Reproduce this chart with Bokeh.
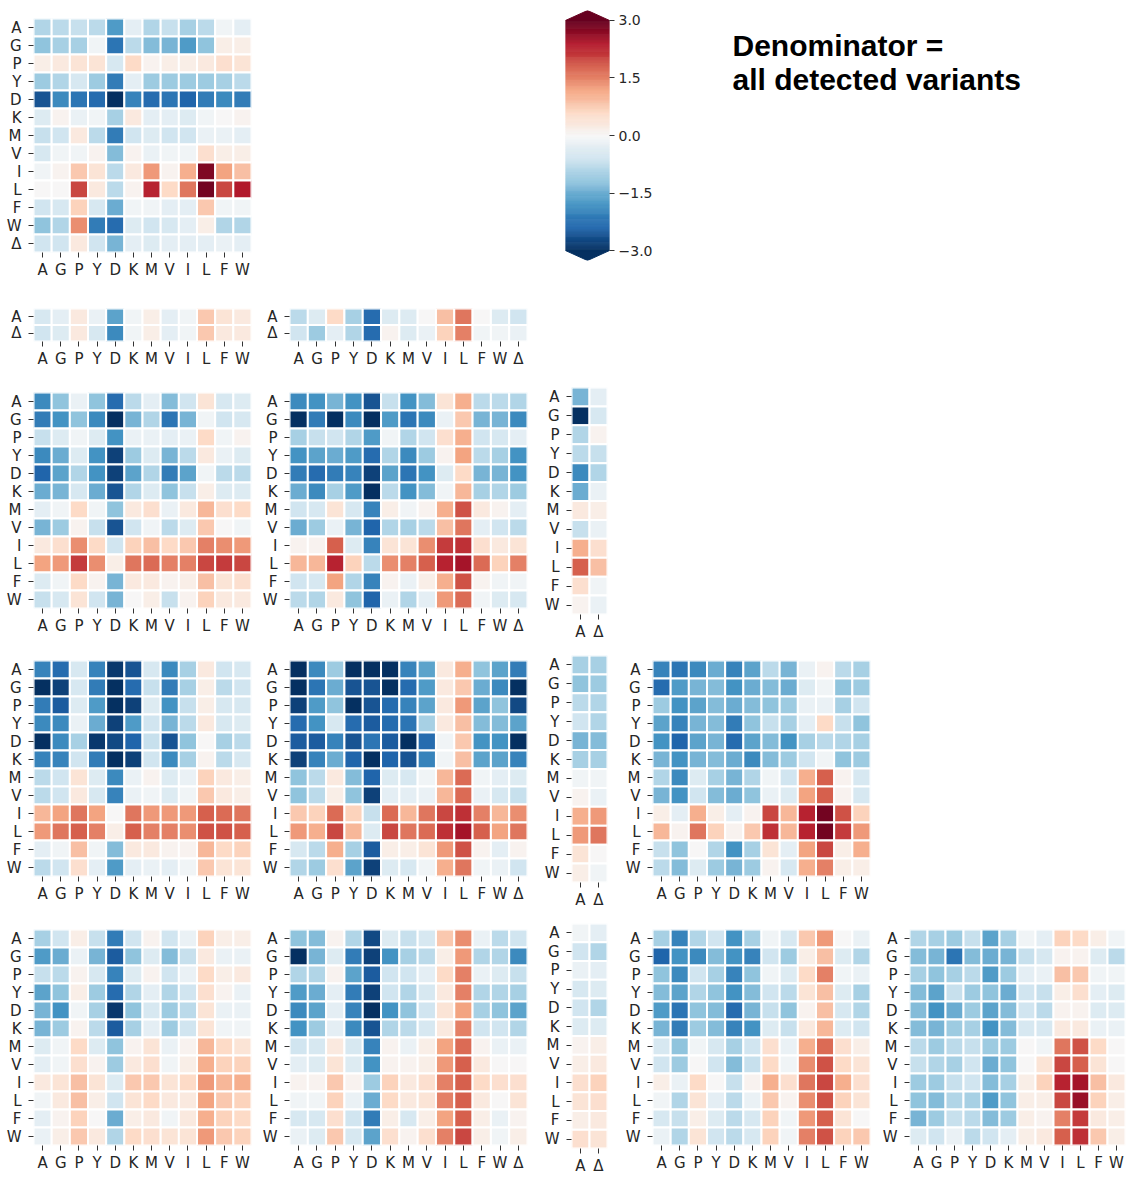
import numpy as np
from bokeh.plotting import figure
from bokeh.models import (ColumnDataSource, FactorRange, Range1d, Spacer,
                          FixedTicker, CustomJSTickFormatter)
from bokeh.core.properties import value
from bokeh.layouts import row, column
from bokeh.transform import linear_cmap
from bokeh.embed import file_html
from bokeh.resources import INLINE

# ---------------------------------------------------------------- labels
RES = ["A", "G", "P", "Y", "D", "K", "M", "V", "I", "L", "F", "W"]
RES_DEL = RES + ["Δ"]
A_DEL = ["A", "Δ"]

# ---------------------------------------------------------------- log2 enrichment per panel (rows x cols)
panel_1_1 = [
    [-0.9, -0.8, -0.7, -0.8, -1.7, -0.3, -0.9, -0.7, -1.0, -0.8, -0.1, -0.3],
    [-1.2, -1.0, -1.0, -0.1, -2.2, -0.8, -1.3, -1.4, -1.7, -1.2, 0.2, 0.2],
    [0.2, 0.3, 0.4, 0.4, -0.5, 0.6, 0.1, 0.2, 0.2, 0.3, 0.5, 0.4],
    [-1.1, -0.9, -0.5, -1.1, -2.1, -0.3, -1.1, -1.1, -1.1, -1.1, -1.0, -0.8],
    [-2.6, -1.9, -2.2, -2.3, -3.0, -2.0, -2.3, -2.2, -2.4, -2.1, -1.9, -2.1],
    [-0.4, 0.1, -0.2, -0.1, -1.0, 0.3, -0.3, -0.3, -0.4, -0.1, 0.0, 0.1],
    [-0.7, -0.6, 0.3, -0.8, -2.1, -0.6, -0.4, -0.6, -0.6, -0.2, -0.2, -0.3],
    [-0.5, -0.1, -0.1, 0.1, -1.3, 0.1, -0.2, -0.1, -0.1, 0.5, 0.2, 0.2],
    [-0.1, 0.1, 0.8, 0.4, -0.8, 0.3, 1.3, 0.1, 1.1, 2.8, 1.2, 0.9],
    [0.0, 0.0, 2.0, 0.3, -0.8, 0.1, 2.3, 0.6, 1.6, 2.9, 2.0, 2.4],
    [-0.6, -0.5, 0.7, -0.5, -1.5, -0.1, -0.1, -0.3, -0.3, 0.8, -0.1, -0.1],
    [-1.2, -0.9, 1.4, -2.1, -2.3, -0.4, -0.6, -0.5, -0.3, 0.2, -0.9, -0.9],
    [-0.6, -0.6, 0.3, -0.6, -1.4, -0.3, -0.4, -0.3, -0.3, -0.3, -0.2, -0.3],
]

panel_2_1 = [
    [-0.5, -0.3, 0.3, -0.2, -1.6, -0.1, 0.2, -0.3, -0.1, 0.8, 0.4, 0.3],
    [-0.6, -0.4, 0.3, -0.5, -1.9, -0.1, 0.2, -0.3, -0.1, 0.8, 0.3, 0.3],
]

panel_2_2 = [
    [-0.8, -0.4, 0.6, -1.0, -2.3, -0.4, -0.4, 0.0, 0.9, 1.6, 0.0, -0.4, -0.6],
    [-0.6, -1.1, -0.3, -0.9, -2.3, 0.1, -0.4, -0.2, 0.7, 1.5, -0.1, -0.1, -0.2],
]

panel_3_1 = [
    [-1.9, -1.2, -0.2, -1.2, -2.3, -0.8, -0.3, -1.3, -0.6, 0.4, -0.5, -0.4],
    [-2.1, -1.8, -1.2, -1.9, -3.0, -1.4, -0.9, -2.2, -1.4, -0.1, -0.6, -0.5],
    [-0.7, -0.4, -0.1, -0.4, -1.8, -0.2, -0.2, -0.3, -0.2, 0.6, -0.1, 0.1],
    [-1.9, -1.5, -0.4, -1.8, -2.8, -1.1, -0.4, -1.4, -0.8, 0.3, -0.2, -0.4],
    [-2.4, -1.6, -0.9, -1.8, -2.8, -1.6, -0.9, -2.1, -1.6, -0.1, -0.8, -0.8],
    [-1.5, -1.4, -0.5, -1.5, -2.6, -0.9, -0.4, -1.2, -0.7, 0.2, -0.4, -0.4],
    [-0.3, -0.1, 0.6, -0.1, -1.2, 0.3, 0.5, -0.2, 0.3, 1.0, 0.5, 0.6],
    [-1.4, -1.1, 0.1, -0.7, -2.6, -0.6, -0.1, -0.8, -0.4, 0.8, 0.0, -0.1],
    [0.3, 0.5, 1.4, 0.6, -0.6, 0.7, 0.9, 0.6, 0.8, 1.5, 1.4, 1.3],
    [1.2, 1.3, 2.1, 1.4, 0.2, 1.6, 1.7, 1.5, 1.5, 2.0, 2.1, 2.0],
    [-0.4, -0.1, 0.6, 0.1, -1.4, 0.3, 0.3, 0.1, 0.2, 0.9, 0.4, 0.5],
    [-0.7, -0.5, 0.4, -0.6, -1.4, 0.0, 0.2, -0.7, 0.1, 0.7, 0.3, 0.3],
]

panel_3_2 = [
    [-1.9, -1.8, -1.4, -1.8, -2.6, -0.7, -1.8, -1.3, 0.4, 1.1, -0.8, -0.8, -0.9],
    [-3.0, -2.1, -3.0, -1.9, -3.0, -1.7, -2.2, -1.9, -0.2, 0.8, -1.4, -1.4, -1.9],
    [-1.0, -0.7, -0.6, -0.9, -1.7, -0.1, -0.9, -0.6, 0.5, 1.1, -0.6, -0.5, -0.3],
    [-1.8, -1.6, -1.5, -1.7, -2.3, -0.9, -1.9, -1.1, 0.1, 1.2, -0.8, -1.0, -1.8],
    [-2.1, -2.3, -2.1, -2.0, -2.8, -1.6, -2.2, -1.8, -0.4, 0.6, -1.4, -1.4, -1.8],
    [-1.5, -1.9, -1.0, -1.7, -3.0, -0.8, -1.8, -1.3, -0.1, 1.0, -1.0, -0.9, -1.1],
    [-0.6, -0.5, 0.4, -0.5, -2.0, 0.2, -0.1, 0.1, 1.1, 1.9, 0.3, 0.1, -0.3],
    [-1.5, -1.1, -0.2, -1.4, -2.4, -0.9, -1.0, -0.8, 0.9, 1.6, -0.3, -0.6, -0.8],
    [0.1, 0.1, 1.8, -0.4, -2.0, 0.4, 0.4, 1.4, 2.1, 2.2, 0.5, 0.3, 0.4],
    [1.0, 1.0, 2.3, 0.7, -0.8, 1.4, 1.5, 1.8, 2.3, 2.5, 1.7, 0.7, 1.5],
    [-0.6, -0.5, 1.2, -0.9, -2.0, 0.1, -0.2, 0.2, 1.1, 1.9, 0.1, -0.1, -0.1],
    [-0.8, -0.9, 0.3, -1.2, -2.4, -0.2, -0.9, -0.3, 1.3, 1.7, -0.1, -0.4, -0.5],
]

panel_3_3 = [
    [-1.4, -0.3], [-3.0, -0.5], [-0.9, 0.1], [-0.8, -0.7], [-1.9, -0.9], [-1.5, -0.2],
    [0.3, 0.2], [-0.7, -0.2], [1.1, 0.5], [1.8, 0.9], [0.5, -0.1], [0.1, -0.2],
]

panel_4_1 = [
    [-2.0, -2.3, -0.5, -2.0, -2.9, -2.6, -0.5, -1.9, -1.0, 0.3, -0.6, -0.5],
    [-3.0, -2.8, -0.5, -2.1, -3.0, -2.3, -0.7, -2.1, -1.0, 0.2, -0.8, -0.6],
    [-2.1, -2.5, -0.4, -1.7, -3.0, -2.8, -0.4, -1.8, -0.7, 0.2, -0.5, -0.5],
    [-1.9, -1.9, -0.2, -1.5, -2.8, -1.7, -0.6, -1.4, -0.8, 0.3, -0.5, -0.4],
    [-3.0, -1.9, -1.0, -2.9, -2.7, -2.4, -0.7, -2.6, -1.2, 0.0, -1.0, -0.8],
    [-2.0, -2.0, -0.6, -2.1, -3.0, -2.8, -0.6, -1.9, -1.0, 0.1, -0.8, -0.5],
    [-0.8, -0.6, 0.4, -0.4, -1.9, -0.2, 0.1, -0.4, -0.2, 0.7, 0.3, 0.2],
    [-0.8, -0.6, 0.3, -0.5, -2.0, -0.2, -0.1, -0.4, -0.1, 0.8, 0.3, 0.2],
    [1.0, 1.2, 1.6, 1.2, 0.0, 1.6, 1.3, 1.3, 1.3, 1.8, 1.7, 1.6],
    [1.3, 1.6, 1.8, 1.5, 0.2, 1.8, 1.5, 1.5, 1.4, 1.9, 1.9, 1.8],
    [-0.3, -0.1, 0.9, -0.1, -1.3, 0.3, 0.3, 0.1, 0.1, 1.0, 0.6, 0.7],
    [-0.8, -0.6, 0.5, -0.3, -1.7, -0.3, -0.2, -0.3, -0.1, 0.8, 0.4, 0.4],
]

panel_4_2 = [
    [-3.0, -1.9, -1.1, -3.0, -3.0, -3.0, -2.0, -1.6, 0.3, 1.1, -1.2, -1.6, -2.1],
    [-3.0, -2.2, -1.5, -2.6, -2.6, -3.0, -2.3, -1.7, 0.3, 0.8, -1.5, -1.9, -3.0],
    [-2.8, -1.7, -1.2, -3.0, -2.6, -2.3, -2.0, -1.6, 0.3, 1.3, -1.6, -1.2, -2.7],
    [-2.3, -1.8, -0.5, -2.3, -2.5, -2.3, -2.2, -1.0, 0.3, 0.9, -1.3, -1.3, -1.6],
    [-2.5, -2.5, -2.0, -2.6, -2.2, -2.5, -3.0, -2.3, -0.1, 0.8, -1.8, -1.8, -3.0],
    [-2.8, -2.0, -1.5, -2.4, -3.0, -2.4, -2.6, -2.0, -0.1, 0.9, -1.6, -1.6, -2.0],
    [-1.2, -0.8, 0.3, -1.3, -2.4, -0.4, -0.5, -0.1, 1.0, 1.7, -0.1, -0.3, -0.4],
    [-1.2, -0.8, 0.2, -1.2, -2.8, -0.3, -0.3, -0.2, 1.0, 1.7, -0.2, -0.5, -0.7],
    [0.8, 0.7, 1.7, 0.7, -0.7, 1.7, 1.0, 1.6, 2.0, 2.2, 1.5, 1.0, 1.4],
    [1.3, 1.1, 2.0, 1.0, -0.4, 2.0, 1.6, 1.7, 2.2, 2.5, 1.8, 1.2, 1.6],
    [-0.5, -0.8, 1.1, -1.0, -2.5, 0.2, 0.2, 0.4, 1.3, 1.9, 0.1, -0.3, 0.1],
    [-0.9, -1.1, 0.5, -1.6, -2.8, -0.4, -0.5, -0.1, 1.1, 1.6, -0.1, -0.2, -0.6],
]

panel_4_3 = [
    [-1.0, -1.0], [-1.2, -1.1], [-0.8, -0.9], [-0.6, -0.9], [-1.4, -1.3], [-1.0, -1.0],
    [-0.1, -0.1], [0.1, -0.2], [1.1, 1.3], [1.3, 1.6], [0.4, 0.0], [0.2, -0.1],
]

panel_4_4 = [
    [-2.0, -2.2, -1.9, -1.5, -2.0, -1.6, -0.8, -1.4, -0.2, 0.1, -0.8, -1.0],
    [-2.3, -1.7, -1.4, -1.3, -1.8, -1.5, -1.3, -1.5, -0.4, -0.1, -1.2, -1.1],
    [-1.1, -1.8, -1.6, -1.3, -1.5, -1.3, -1.2, -1.1, -0.2, -0.2, -1.0, -0.6],
    [-1.6, -2.0, -1.4, -1.3, -2.1, -1.2, -0.7, -1.0, -0.3, 0.6, -0.7, -1.2],
    [-1.8, -2.4, -1.6, -1.4, -2.3, -1.6, -1.3, -1.8, -1.0, -0.8, -0.9, -1.0],
    [-1.4, -1.8, -1.4, -1.3, -1.5, -1.9, -1.3, -1.1, -0.6, -0.1, -1.2, -1.1],
    [-0.9, -1.9, -0.4, -1.0, -1.4, -0.9, -0.1, -0.6, 1.1, 1.8, 0.1, -0.5],
    [-1.4, -1.8, -0.6, -1.3, -1.5, -1.2, -0.2, -0.4, 1.2, 1.8, 0.1, -0.5],
    [0.2, -0.3, 1.1, 0.2, -0.3, 0.1, 2.0, 1.0, 2.3, 2.9, 1.9, 0.7],
    [1.0, 0.1, 1.6, 0.7, 0.1, 0.8, 2.2, 1.0, 2.3, 2.9, 2.1, 1.3],
    [-0.7, -1.2, 0.0, -0.9, -1.8, -1.0, 0.4, -0.3, 1.2, 2.0, 0.2, 1.1],
    [-0.8, -1.3, -0.4, -1.1, -1.4, -1.1, 0.1, -0.5, 1.1, 1.5, 0.2, 0.2],
]

panel_5_1 = [
    [-1.0, -0.6, 0.2, -0.7, -2.1, -0.6, 0.1, -0.6, -0.2, 0.7, 0.2, 0.2],
    [-1.7, -1.5, -0.2, -1.4, -2.5, -1.2, -0.4, -1.3, -0.7, 0.3, -0.2, -0.2],
    [-0.7, -0.8, 0.1, -0.5, -2.0, -0.4, 0.1, -0.6, -0.2, 0.6, 0.2, 0.3],
    [-1.6, -1.2, 0.2, -1.1, -2.3, -0.9, -0.3, -0.9, -0.6, 0.5, 0.1, -0.2],
    [-1.4, -1.8, -0.1, -1.0, -2.9, -1.2, -0.5, -1.1, -0.8, 0.4, -0.2, -0.2],
    [-1.4, -1.1, 0.1, -0.8, -2.5, -1.0, -0.3, -1.1, -0.6, 0.4, -0.1, -0.1],
    [-0.4, -0.1, 0.6, -0.4, -1.2, 0.1, 0.4, -0.2, 0.1, 1.0, 0.6, 0.4],
    [-0.3, -0.1, 0.5, 0.1, -1.1, 0.3, 0.5, -0.1, 0.2, 1.1, 0.7, 0.7],
    [0.3, 0.4, 0.9, 0.4, -0.4, 0.8, 0.8, 0.4, 0.6, 1.3, 1.0, 1.1],
    [-0.1, 0.3, 0.9, 0.2, -0.6, 0.4, 0.6, 0.3, 0.3, 1.2, 0.8, 0.7],
    [-0.3, 0.1, 0.7, 0.0, -1.5, 0.2, 0.3, -0.1, 0.3, 1.1, 0.7, 0.6],
    [-0.2, 0.2, 0.8, 0.3, -0.9, 0.6, 0.5, 0.4, 0.4, 1.3, 0.8, 0.7],
]

panel_5_2 = [
    [-1.2, -1.3, 0.1, -0.9, -2.7, -0.4, -0.7, -0.5, 0.8, 1.4, -0.2, -0.8, -0.6],
    [-3.0, -1.4, -0.4, -2.1, -2.8, -1.8, -1.0, -0.8, 0.2, 1.3, -0.9, -0.9, -1.9],
    [-0.9, -0.9, 0.1, -1.6, -2.5, -0.6, -0.6, -0.3, 0.6, 1.5, -0.2, -0.4, -0.7],
    [-1.7, -1.5, -0.3, -2.1, -2.8, -0.6, -0.9, -0.5, 0.3, 1.5, -0.9, -0.9, -1.0],
    [-1.9, -1.6, -0.3, -2.0, -3.0, -1.8, -1.2, -0.6, 0.4, 1.2, -1.0, -1.2, -1.6],
    [-1.8, -1.1, -0.3, -1.9, -2.6, -0.9, -0.8, -0.5, 0.3, 1.5, -0.6, -0.6, -0.9],
    [-0.6, -0.5, 0.3, -0.5, -2.0, 0.1, -0.2, 0.2, 1.2, 1.7, 0.1, -0.2, -0.2],
    [-0.3, -0.4, 0.4, -0.4, -1.8, 0.1, 0.1, 0.2, 1.3, 1.8, 0.3, 0.0, 0.0],
    [0.1, 0.1, 0.8, 0.1, -1.1, 0.7, 0.3, 0.5, 1.5, 1.8, 0.6, 0.5, 0.5],
    [-0.1, -0.1, 0.7, -0.2, -1.5, 0.6, 0.3, 0.4, 1.5, 1.8, 0.3, 0.0, 0.4],
    [-0.5, -0.5, 0.5, -0.6, -2.1, 0.2, -0.5, 0.2, 1.2, 1.8, 0.2, -0.2, 0.1],
    [-0.2, -0.4, 0.8, -0.5, -1.6, 0.5, 0.1, 0.5, 1.5, 2.0, 0.2, -0.1, 0.2],
]

panel_5_3 = [
    [-0.1, -0.3], [-0.6, -0.9], [-0.2, -0.3], [-0.5, -0.4], [-0.6, -0.9], [-0.4, -0.4],
    [0.1, 0.2], [0.2, 0.3], [0.5, 0.7], [0.4, 0.5], [0.2, 0.3], [0.5, 0.4],
]

panel_5_4 = [
    [-1.0, -2.0, -0.9, -0.6, -1.8, -1.0, -0.1, -0.5, 0.8, 1.3, 0.0, -0.2],
    [-2.4, -1.8, -1.9, -1.3, -1.8, -2.0, -0.6, -1.1, 0.2, 0.9, -0.4, -0.9],
    [-1.2, -1.9, -0.6, -1.0, -2.0, -1.2, -0.1, -0.4, 0.6, 1.5, -0.1, -0.2],
    [-1.3, -1.6, -0.9, -1.2, -1.8, -1.3, -0.6, -0.8, 0.4, 0.9, -0.4, -1.0],
    [-1.7, -2.2, -1.2, -1.3, -2.3, -1.4, -0.7, -1.2, 0.1, 0.9, -0.5, -0.9],
    [-1.4, -2.1, -1.1, -1.3, -2.0, -1.8, -0.4, -0.7, 0.3, 1.0, -0.4, -0.6],
    [-0.5, -1.2, -0.1, -0.5, -1.0, -0.6, 0.5, -0.2, 1.1, 1.7, 0.5, 0.2],
    [-0.6, -1.1, 0.0, -0.6, -1.3, -0.7, 0.6, -0.1, 1.4, 1.9, 0.6, 0.4],
    [0.2, -0.2, 0.6, 0.0, -0.7, 0.1, 1.1, 0.5, 1.6, 2.0, 1.1, 0.5],
    [-0.1, -0.9, 0.4, -0.3, -0.8, -0.2, 0.8, 0.1, 1.4, 1.9, 0.7, 0.4],
    [-0.5, -0.7, 0.2, -0.4, -0.8, -0.5, 0.7, -0.1, 1.3, 1.8, 0.4, 0.0],
    [-0.2, -0.9, 0.4, -0.6, -0.8, -0.5, 0.7, -0.1, 1.5, 1.9, 0.7, 0.8],
]

panel_5_5 = [
    [-0.9, -1.0, -1.1, -0.7, -1.6, -1.0, -0.1, -0.3, 0.7, 0.6, 0.2, -0.1],
    [-1.3, -1.4, -2.2, -1.3, -1.5, -1.4, -0.7, -0.5, 0.1, 0.1, -0.4, -0.8],
    [-1.0, -1.2, -1.0, -0.8, -1.7, -1.1, -0.3, -0.2, 0.9, 0.8, -0.1, -0.1],
    [-1.3, -1.6, -0.7, -1.1, -1.2, -1.5, -0.6, -0.7, 0.2, 0.5, -0.3, -0.4],
    [-1.3, -1.8, -1.5, -1.1, -1.6, -1.3, -0.6, -0.8, 0.1, 0.1, -0.4, -0.4],
    [-1.3, -1.4, -1.1, -1.0, -1.8, -1.3, -0.5, -0.5, 0.3, 0.3, -0.2, -0.2],
    [-0.8, -1.1, -0.8, -0.7, -1.1, -1.1, 0.0, -0.1, 1.6, 1.9, 0.6, 0.0],
    [-0.7, -0.9, -1.0, -0.6, -1.5, -1.2, 0.0, 0.4, 2.0, 1.8, 0.4, 0.0],
    [-1.1, -1.1, -0.7, -0.6, -1.3, -1.0, 0.2, 0.7, 2.3, 2.5, 0.9, 0.3],
    [-1.2, -1.3, -0.9, -1.0, -1.7, -1.2, 0.2, 0.2, 2.0, 2.6, 0.7, 0.2],
    [-1.4, -1.1, -0.7, -0.8, -1.3, -1.1, 0.2, 0.1, 1.5, 2.1, 0.3, 0.2],
    [-0.4, -0.6, -0.2, -0.8, -0.6, -0.3, 0.2, 0.3, 1.8, 2.2, 0.8, 0.2],
]

CBAR_TICKS = [-3.0, -1.5, 0.0, 1.5, 3.0]
TITLE_LINES = ["Denominator =", "all detected variants"]

# ---------------------------------------------------------------- colour map (RdBu reversed, low = blue)
RDBU_ANCHORS = ["#053061", "#2166ac", "#4393c3", "#92c5de", "#d1e5f0", "#f7f7f7",
                "#fddbc7", "#f4a582", "#d6604d", "#b2182b", "#67001f"]


def interp_palette(anchors, n=256):
    rgb = np.array([[int(c[i:i + 2], 16) for i in (1, 3, 5)] for c in anchors], float)
    pos = np.linspace(0, 1, len(anchors))
    t = np.linspace(0, 1, n)
    chans = [np.interp(t, pos, rgb[:, k]) for k in range(3)]
    return ["#%02x%02x%02x" % (int(round(r)), int(round(g)), int(round(b)))
            for r, g, b in zip(*chans)]


PALETTE = interp_palette(RDBU_ANCHORS)
VMIN, VMAX = -3.0, 3.0

LABEL_FONT = "DejaVu Sans"
LABEL_SIZE = "15px"
LABEL_COLOR = "#262626"

# ---------------------------------------------------------------- geometry of the grid
# (left border, frame width, right border) per column of panels
COL_GEOM = [(33, 218, 5), (33, 238, 11), (33, 36, 12), (33, 218, 6), (33, 216, 2)]
# per row: total height, (top border, frame height) for wide panels and for the narrow A/Δ panels
ROW_GEOM = [
    (290, (18, 234), None),
    (80, (18, 34), None),
    (275, (22, 216), (17, 227)),
    (270, (15, 216), (10, 227)),
    (262, (14, 216), (8, 227)),
]


def style_axes(p):
    for ax in (p.xaxis[0], p.yaxis[0]):
        ax.axis_line_color = None
        ax.major_tick_line_color = "#333333"
        ax.major_tick_line_width = 1
        ax.major_tick_out = 5
        ax.major_tick_in = 0
        ax.minor_tick_line_color = None
        ax.major_label_text_font = LABEL_FONT
        ax.major_label_text_font_size = LABEL_SIZE
        ax.major_label_text_color = LABEL_COLOR
    p.xaxis.major_label_standoff = 3
    p.yaxis.major_label_standoff = 7
    p.grid.visible = False
    p.outline_line_color = None


def heatmap(matrix, rows, cols, col_idx, row_idx):
    left, fw, right = COL_GEOM[col_idx]
    total_h, wide, narrow = ROW_GEOM[row_idx]
    top, fh = narrow if (len(cols) == 2 and narrow is not None) else wide
    bottom = total_h - top - fh

    xs, ys, vs = [], [], []
    for r, vals in zip(rows, matrix):
        for c, v in zip(cols, vals):
            xs.append(c)
            ys.append(r)
            vs.append(v)
    src = ColumnDataSource(dict(x=xs, y=ys, v=vs))

    p = figure(width=left + fw + right, height=total_h, title=None,
               x_range=FactorRange(*cols), y_range=FactorRange(*rows[::-1]),
               output_backend="svg", toolbar_location=None, frame_align=False,
               min_border_left=left, min_border_right=right,
               min_border_top=top, min_border_bottom=bottom,
               background_fill_color="white", border_fill_color="white")
    p.rect(x="x", y="y", width=1, height=1, source=src,
           fill_color=linear_cmap("v", PALETTE, VMIN, VMAX),
           line_color="white", line_width=2)
    style_axes(p)
    return p


# ---------------------------------------------------------------- colour bar
def colorbar_figure():
    edges = np.linspace(VMIN, VMAX, 241)
    src = ColumnDataSource(dict(bottom=edges[:-1], top=edges[1:],
                                v=(edges[:-1] + edges[1:]) / 2))
    ext = 0.26
    p = figure(width=44 + 62, height=290, title=None, x_range=Range1d(0, 1),
               y_range=Range1d(VMIN - ext, VMAX + ext),
               x_axis_location=None, y_axis_location="right", frame_align=False,
               output_backend="svg", toolbar_location=None,
               min_border_left=0, min_border_right=62, min_border_top=10, min_border_bottom=30)
    cmap = linear_cmap("v", PALETTE, VMIN, VMAX)
    p.quad(left=0, right=1, bottom="bottom", top="top", source=src,
           fill_color=cmap, line_color=cmap, line_width=0.6)
    p.patch([0, 1, 0.5], [VMAX, VMAX, VMAX + ext], fill_color=PALETTE[-1], line_color=PALETTE[-1])
    p.patch([0, 1, 0.5], [VMIN, VMIN, VMIN - ext], fill_color=PALETTE[0], line_color=PALETTE[0])
    p.grid.visible = False
    p.outline_line_color = None
    ax = p.yaxis[0]
    ax.ticker = FixedTicker(ticks=CBAR_TICKS)
    ax.formatter = CustomJSTickFormatter(
        code="return (tick < 0 ? '\\u2212' : '') + Math.abs(tick).toFixed(1);")
    ax.axis_line_color = None
    ax.major_tick_line_color = "#333333"
    ax.major_tick_out = 5
    ax.major_tick_in = 0
    ax.minor_tick_line_color = None
    ax.major_label_standoff = 4
    ax.major_label_text_font = LABEL_FONT
    ax.major_label_text_font_size = "14px"
    ax.major_label_text_color = LABEL_COLOR
    return p


def title_figure():
    p = figure(width=456, height=290, title=None, x_range=Range1d(0, 456), y_range=Range1d(290, 0),
               x_axis_location=None, y_axis_location=None, frame_align=False,
               output_backend="svg", toolbar_location=None,
               min_border_left=0, min_border_right=0, min_border_top=0, min_border_bottom=0)
    p.grid.visible = False
    p.outline_line_color = None
    p.text(x=[61, 61], y=[45, 79], text=TITLE_LINES, text_font=value("Liberation Sans"),
           text_font_style="bold", text_font_size="30px", text_color="black",
           text_baseline="alphabetic", text_align="left")
    return p


# ---------------------------------------------------------------- assemble
r1 = row(heatmap(panel_1_1, RES_DEL, RES, 0, 0), Spacer(width=309, height=290),
         colorbar_figure(), title_figure())
r2 = row(heatmap(panel_2_1, A_DEL, RES, 0, 1), heatmap(panel_2_2, A_DEL, RES_DEL, 1, 1))
r3 = row(heatmap(panel_3_1, RES, RES, 0, 2), heatmap(panel_3_2, RES, RES_DEL, 1, 2),
         heatmap(panel_3_3, RES, A_DEL, 2, 2))
r4 = row(heatmap(panel_4_1, RES, RES, 0, 3), heatmap(panel_4_2, RES, RES_DEL, 1, 3),
         heatmap(panel_4_3, RES, A_DEL, 2, 3), heatmap(panel_4_4, RES, RES, 3, 3))
r5 = row(heatmap(panel_5_1, RES, RES, 0, 4), heatmap(panel_5_2, RES, RES_DEL, 1, 4),
         heatmap(panel_5_3, RES, A_DEL, 2, 4), heatmap(panel_5_4, RES, RES, 3, 4),
         heatmap(panel_5_5, RES, RES, 4, 4))

layout = column(r1, r2, r3, r4, r5)

with open("out.html", "w") as f:
    f.write(file_html(layout, INLINE, title="Enrichment heatmaps"))
